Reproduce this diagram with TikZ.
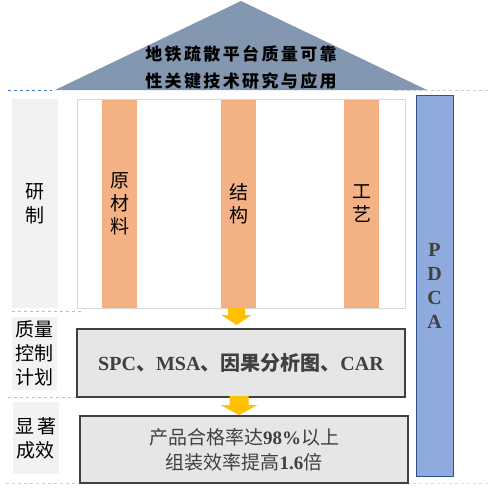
\documentclass[tikz,border=0pt]{standalone}
\usepackage{fontspec}
\setmainfont{Liberation Serif}
\newfontfamily\cjk{Noto Sans CJK SC}
\newfontfamily\cjkwide[LetterSpace=14]{Noto Sans CJK SC}
\usetikzlibrary{calc}

\definecolor{roofblue}{HTML}{8497B0}
\definecolor{sidegray}{HTML}{F2F2F2}
\definecolor{barorange}{HTML}{F4B183}
\definecolor{pdcablue}{HTML}{8FAADC}
\definecolor{pdcaline}{HTML}{2F528F}
\definecolor{arrowyellow}{HTML}{FFC000}
\definecolor{boxgray}{HTML}{E7E6E6}
\definecolor{boxline}{HTML}{404040}
\definecolor{textgray}{HTML}{404040}
\definecolor{dashblue}{HTML}{4472C4}
\definecolor{framegray}{HTML}{D9D9D9}

\tikzset{
  sidebox/.style={fill=sidegray,inner sep=0pt,align=center,font=\cjk\fontsize{19}{24}\selectfont},
  bar/.style={fill=barorange,inner sep=0pt,minimum width=35pt,minimum height=208pt,align=center,font=\cjk\fontsize{19}{23}\selectfont},
  resultbox/.style={draw=boxline,line width=1.1pt,fill=boxgray,inner sep=0pt,align=center,text=textgray},
  dline/.style={dashed,draw=dashblue!70,line width=0.6pt}
}

\begin{document}
\begin{tikzpicture}[x=1pt,y=-1pt]
\useasboundingbox (0,0) rectangle (489,488);

% roof
\coordinate (apex) at (241,1);
\coordinate (eaveL) at (55,90);
\coordinate (eaveR) at (427,90);
\fill[roofblue] (apex) -- (eaveR) -- (eaveL) -- cycle;
\node[align=center,font=\cjkwide\bfseries\fontsize{17}{27}\selectfont] (title) at (241,67)
  {地铁疏散平台质量可靠\\性关键技术研究与应用};

% dashed separators
\draw[dline,draw=dashblue] (8,90) -- (52,90);
\draw[dline,draw=dashblue!35] (395,90) -- (489,90);
\draw[dline,draw=dashblue!45] (12,311) -- (84,311);
\draw[dline,draw=dashblue!45] (8,397) -- (77,397);
\draw[dline,draw=dashblue!35] (6,483) -- (75,483);
\draw[dline,draw=dashblue!25] (395,483) -- (489,483);

% left labels
\node[sidebox,minimum width=46pt,minimum height=209pt] (research) at (35,203.5) {研\\制};
\node[sidebox,minimum width=45pt,minimum height=73pt] (plan) at (34.5,353.5) {质量\\控制\\计划};
\node[sidebox,minimum width=46pt,minimum height=72pt] (effect) at (36,438) {显\,著\\成效};

% research frame with bars
\node[draw=framegray,line width=0.8pt,fill=white,minimum width=328pt,minimum height=209pt] (main) at (241,203.5) {};
\node[bar] (material) at (119.5,204) {原\\材\\料};
\node[bar] (structure) at (238.5,204) {结\\构};
\node[bar] (process) at (361.5,204) {工\\艺};

% PDCA column
\node[draw=pdcaline,line width=0.8pt,fill=pdcablue,minimum width=37pt,minimum height=381pt,
  align=center,text=textgray,font=\bfseries\fontsize{20}{24}\selectfont] (pdca) at (434.5,286) {P\\D\\C\\A};

% quality control and results
\node[resultbox,minimum width=328pt,minimum height=68pt,font=\bfseries\fontsize{20}{24}\selectfont] (tools) at (241,363)
  {SPC{\cjk 、}MSA{\cjk 、因果分析图、}CAR};
\node[resultbox,minimum width=328pt,minimum height=67pt,font=\fontsize{19}{25}\selectfont] (result) at (244,449.5)
  {{\cjk 产品合格率达}\textbf{98\%}{\cjk 以上}\\{\cjk 组装效率提高}\textbf{1.6}{\cjk 倍}};

% flow arrows
\coordinate (arrowA) at (236.5,308);
\coordinate (arrowB) at (239,396);
\fill[arrowyellow] ($(arrowA)+(-8.5,0)$) -- ++(17,0) -- ++(0,7) -- ++(6.5,0)
  -- ++(-15,10) -- ++(-15,-10) -- ++(6.5,0) -- cycle;
\fill[arrowyellow] ($(arrowB)+(-9.5,0)$) -- ++(19,0) -- ++(0,9) -- ++(9,0)
  -- ++(-18.5,10) -- ++(-18.5,-10) -- ++(9,0) -- cycle;

\end{tikzpicture}
\end{document}
